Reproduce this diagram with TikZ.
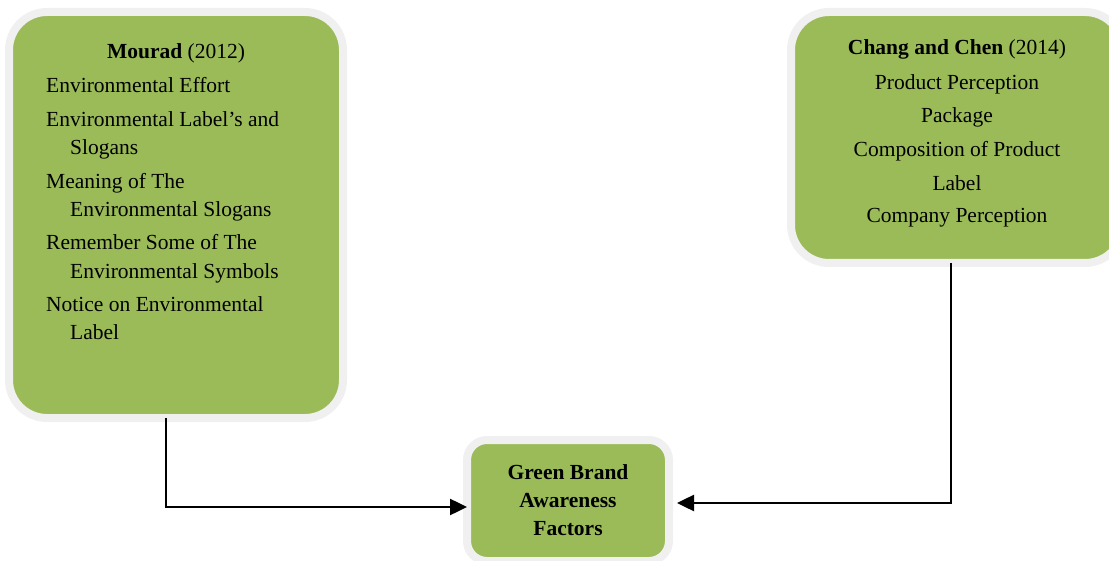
\documentclass[tikz,border=0pt]{standalone}
\usepackage{fontspec}
\setmainfont{Liberation Serif}
\usetikzlibrary{arrows.meta}
\definecolor{boxgreen}{RGB}{155,187,89}
\definecolor{boxrim}{RGB}{240,240,240}
\tikzset{
  gbox/.style={draw=boxrim, line width=8pt, fill=boxgreen, rounded corners=#1, inner sep=0pt, outer sep=0pt},
  txt/.style={anchor=base west, inner sep=0pt, font=\fontsize{21.5}{26}\selectfont},
  ctxt/.style={anchor=base, inner sep=0pt, font=\fontsize{21.5}{26}\selectfont},
  btxt/.style={anchor=base, inner sep=0pt, font=\fontsize{21.5}{26}\selectfont\bfseries},
  conn/.style={line width=2.5pt, -{Triangle[length=17pt,width=16pt]}}
}
\begin{document}
\begin{tikzpicture}[x=1pt,y=-1pt]
\useasboundingbox (0,0) rectangle (1109,561);
\clip (0,0) rectangle (1109,561);
% boxes
\node[gbox=38pt, minimum width=334pt, minimum height=406pt] (mourad) at (176,215) {};
\node[gbox=38pt, minimum width=332pt, minimum height=251pt] (chang) at (957,137.5) {};
\node[gbox=20pt, minimum width=202pt, minimum height=121pt] (gbaf) at (568,500.5) {};
% left text
\node[ctxt] (m0) at (176,59) {\textbf{Mourad} (2012)};
\node[txt] (m1) at (46,93) {Environmental Effort};
\node[txt] (m2) at (46,127) {Environmental Label’s and};
\node[txt] (m3) at (70,155) {Slogans};
\node[txt] (m4) at (46,189) {Meaning of The};
\node[txt] (m5) at (70,217) {Environmental Slogans};
\node[txt] (m6) at (46,250) {Remember Some of The};
\node[txt] (m7) at (70,279) {Environmental Symbols};
\node[txt] (m8) at (46,312) {Notice on Environmental};
\node[txt] (m9) at (70,340) {Label};
% right text
\node[ctxt] (c0) at (957,55) {\textbf{Chang and Chen} (2014)};
\node[ctxt] (c1) at (957,90) {Product Perception};
\node[ctxt] (c2) at (957,123) {Package};
\node[ctxt] (c3) at (957,157) {Composition of Product};
\node[ctxt] (c4) at (957,191) {Label};
\node[ctxt] (c5) at (957,223) {Company Perception};
% bottom text
\node[btxt] (g0) at (568,479) {Green Brand};
\node[btxt] (g1) at (568,507) {Awareness};
\node[btxt] (g2) at (568,535) {Factors};
% connectors
\coordinate (ls) at (166,418);
\coordinate (rs) at (951,263);
\draw[conn] (ls) |- ([yshift=-6.5pt]gbaf.west);
\draw[conn] (rs) |- ([xshift=8pt,yshift=-2.5pt]gbaf.east);
\end{tikzpicture}
\end{document}
